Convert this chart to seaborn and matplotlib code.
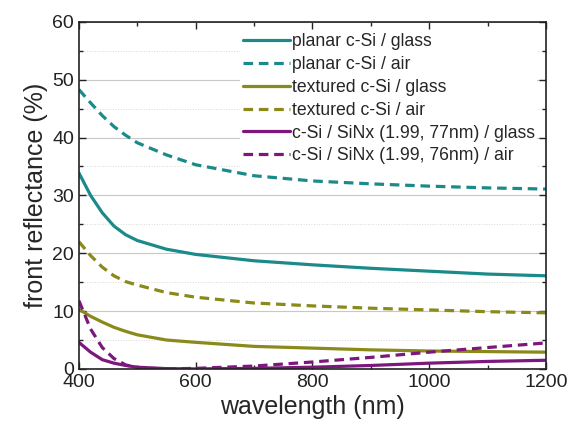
import pandas as pd
import seaborn as sns
import matplotlib.pyplot as plt
from matplotlib.ticker import MultipleLocator

# wavelength grid (nm) and reflectance values (%)
wavelength = [400, 420, 440, 460, 480, 500, 550, 600, 700, 800, 900, 1000, 1100, 1200]

planar_glass = [33.9, 30.0, 27.0, 24.7, 23.2, 22.2, 20.7, 19.8, 18.7, 18.0, 17.4, 16.9, 16.4, 16.1]
planar_air = [48.3, 46.0, 43.8, 41.9, 40.4, 39.1, 37.0, 35.3, 33.4, 32.5, 32.0, 31.6, 31.3, 31.1]
textured_glass = [10.3, 9.1, 8.1, 7.2, 6.5, 5.9, 5.0, 4.6, 3.9, 3.6, 3.3, 3.1, 3.0, 2.9]
textured_air = [22.0, 19.6, 17.6, 16.1, 15.1, 14.5, 13.2, 12.4, 11.4, 10.9, 10.5, 10.2, 9.9, 9.7]
sinx_glass = [4.6, 2.9, 1.6, 1.0, 0.6, 0.3, 0.05, 0.0, 0.1, 0.3, 0.6, 1.0, 1.3, 1.5]
sinx_air = [11.8, 6.9, 3.7, 1.8, 0.7, 0.2, 0.0, 0.1, 0.5, 1.2, 2.0, 2.9, 3.7, 4.5]

labels = [
    "planar c-Si / glass",
    "planar c-Si / air",
    "textured c-Si / glass",
    "textured c-Si / air",
    "c-Si / SiNx (1.99, 77nm) / glass",
    "c-Si / SiNx (1.99, 76nm) / air",
]
series = [planar_glass, planar_air, textured_glass, textured_air, sinx_glass, sinx_air]

teal = "#1b8a8a"
olive = "#8a8a1b"
purple = "#7d177d"
colors = [teal, teal, olive, olive, purple, purple]
dashed = [False, True, False, True, False, True]

sns.set_theme(style="ticks")
plt.rcParams["font.family"] = ["Liberation Sans", "DejaVu Sans"]

fig, ax = plt.subplots(figsize=(5.76, 4.29), dpi=100)

# grid lines (major solid, minor dotted)
ax.grid(True, which="major", axis="y", color="#c8c8c8", linewidth=0.8)
ax.grid(True, which="minor", axis="y", color="#d8d8d8", linewidth=0.7, linestyle=":")
ax.set_axisbelow(True)

for lab, vals, c, d in zip(labels, series, colors, dashed):
    df = pd.DataFrame({"wavelength": wavelength, "R": vals})
    sns.lineplot(data=df, x="wavelength", y="R", ax=ax, color=c,
                 linewidth=2.3, label=lab)
    if d:
        ax.lines[-1].set_dashes([3.0, 1.8])

ax.set_xlim(400, 1200)
ax.set_ylim(0, 60)
ax.xaxis.set_major_locator(MultipleLocator(200))
ax.xaxis.set_minor_locator(MultipleLocator(100))
ax.yaxis.set_major_locator(MultipleLocator(10))
ax.yaxis.set_minor_locator(MultipleLocator(5))
ax.tick_params(which="both", direction="in", top=True, right=True,
               labelsize=14, colors="#222222")
ax.tick_params(which="major", length=5, width=1)
ax.tick_params(which="minor", length=3, width=1)
for s in ax.spines.values():
    s.set_color("#222222")
    s.set_linewidth(1.2)

ax.set_xlabel("wavelength (nm)", fontsize=18, labelpad=3)
ax.set_ylabel("front reflectance (%)", fontsize=18, labelpad=3)

leg = ax.legend(loc="upper right", fontsize=12.7, handlelength=2.65,
                handletextpad=0.1, labelspacing=0.33, borderaxespad=0.5,
                frameon=True, fancybox=False, borderpad=0.15)
leg.get_frame().set_facecolor("white")
leg.get_frame().set_edgecolor("none")
leg.get_frame().set_alpha(1)

plt.subplots_adjust(left=0.137, right=0.948, top=0.949, bottom=0.14)
fig.savefig("out.png", dpi=100)
